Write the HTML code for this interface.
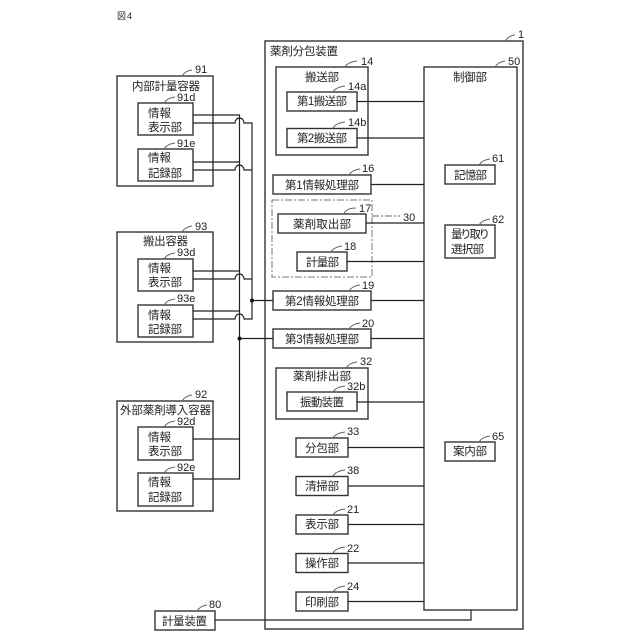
<!DOCTYPE html>
<html><head><meta charset="utf-8"><style>
html,body{margin:0;padding:0;background:#fff}
svg{display:block}
text{font-family:"Liberation Sans","Noto Sans CJK JP",sans-serif;font-size:11.5px;fill:#222}
.n{font-size:11px}
rect{fill:none;stroke:#333;stroke-width:1.4}
.l{fill:none;stroke:#222;stroke-width:1.2}
.c{fill:none;stroke:#666;stroke-width:1}
</style></head><body>
<svg width="640" height="640" viewBox="0 0 640 640" xmlns="http://www.w3.org/2000/svg">
<rect x="265" y="41" width="258" height="588"/>
<rect x="424" y="67" width="93" height="543"/>
<rect x="276" y="67" width="92" height="88"/>
<rect x="287" y="92" width="70" height="19"/>
<rect x="287" y="128.500" width="70" height="19"/>
<rect x="273" y="175" width="98" height="19"/>
<rect x="272" y="200" width="100" height="77" style="stroke:#777;stroke-width:1;stroke-dasharray:7 2 2 2"/>
<rect x="278" y="214" width="88" height="19"/>
<rect x="297" y="252" width="50" height="19"/>
<rect x="273" y="291" width="98" height="19"/>
<rect x="273" y="329" width="98" height="19"/>
<rect x="276" y="368" width="92" height="51"/>
<rect x="287" y="392" width="70" height="19"/>
<rect x="296" y="438" width="52" height="19"/>
<rect x="296" y="476.500" width="52" height="19"/>
<rect x="296" y="515" width="52" height="19"/>
<rect x="296" y="553.500" width="52" height="19"/>
<rect x="296" y="592" width="52" height="19"/>
<rect x="445" y="165" width="50" height="19"/>
<rect x="445" y="225" width="50" height="33"/>
<rect x="445" y="442" width="50" height="19"/>
<rect x="155" y="611" width="60" height="19"/>
<rect x="117" y="76" width="96" height="110"/>
<rect x="138" y="103" width="55" height="32"/>
<rect x="138" y="149" width="55" height="32"/>
<rect x="117" y="232" width="96" height="110"/>
<rect x="138" y="259" width="55" height="32"/>
<rect x="138" y="305" width="55" height="32"/>
<rect x="117" y="401" width="96" height="110"/>
<rect x="138" y="427" width="55" height="33"/>
<rect x="138" y="473" width="55" height="33"/>

<path class="l" d="M357 101.500H424M357 138H424M371 184.500H424M366 223H424M347 261.500H424M371 300.500H424M371 338.500H424M357 402H424M348 447.500H424M348 486H424M348 524.500H424M348 563H424M348 601.500H424"/>
<path class="l" d="M215 620H471V610"/>
<path class="c" d="M372 216H400" style="stroke-dasharray:7 2 2 2"/>
<path class="l" d="M193 115H239.500V479H193M193 162H239.500M193 271H239.500M193 311H239.500M193 439H239.500"/>
<path class="l" d="M193 123H235a4.500 5 0 0 1 9 0H252V319H244a4.500 5 0 0 0 -9 0H193"/>
<path class="l" d="M193 170H235a4.500 5 0 0 1 9 0H252M193 279H235a4.500 5 0 0 1 9 0H252"/>
<path class="l" d="M252 300.500H273M239.500 338.500H273"/>
<circle cx="252" cy="300.500" r="2" fill="#111"/>
<circle cx="239.500" cy="338.500" r="2" fill="#111"/>

<path class="c" d="M182 76q3-5 10-6M164 103q3-5 11-6M164 149q3-5 11-6M182 232q3-5 10-6M164 259q3-5 11-6M164 305q3-5 11-6M182 401q3-5 10-6M164 427q3-5 11-6M164 473q3-5 11-6M505 41q3-5 10-6M495 67q3-5 10-6M345 67q3-5 12-6M333 92q3-5 12-6M333 128q3-5 12-6M349 175q3-5 11-6M479 165q3-5 11-6M344 214q2-6 12-6M331 252q3-5 11-6M349 291q3-5 11-6M349 329q3-5 11-6M346 368q3-5 11-6M333 392q3-5 12-6M333 438q3-5 12-6M333 476q3-5 12-6M479 225q3-5 11-6M479 442q3-5 11-6M333 515q3-5 12-6M333 553q3-5 12-6M333 592q3-5 12-6M197 611q3-5 10-6"/>

<text x="117" y="19" style="font-size:9px" textLength="15">図4</text>
<text x="270" y="55" textLength="68">薬剤分包装置</text>
<text x="305" y="81" textLength="34">搬送部</text>
<text x="297" y="105" textLength="50">第1搬送部</text>
<text x="297" y="142" textLength="50">第2搬送部</text>
<text x="285" y="189" textLength="74">第1情報処理部</text>
<text x="293" y="228" textLength="58">薬剤取出部</text>
<text x="306" y="266" textLength="33">計量部</text>
<text x="285" y="305" textLength="74">第2情報処理部</text>
<text x="285" y="343" textLength="74">第3情報処理部</text>
<text x="293" y="380" textLength="58">薬剤排出部</text>
<text x="300" y="406" textLength="44">振動装置</text>
<text x="305" y="452" textLength="34">分包部</text>
<text x="305" y="490" textLength="34">清掃部</text>
<text x="305" y="528" textLength="34">表示部</text>
<text x="305" y="567" textLength="34">操作部</text>
<text x="305" y="606" textLength="34">印刷部</text>
<text x="453" y="81" textLength="34">制御部</text>
<text x="454" y="179" textLength="33">記憶部</text>
<text x="451" y="238" textLength="39">量り取り</text>
<text x="451" y="253" textLength="33">選択部</text>
<text x="453" y="455" textLength="34">案内部</text>
<text x="162" y="625" textLength="45">計量装置</text>
<text x="132" y="90" textLength="68">内部計量容器</text>
<text x="148" y="117" textLength="23">情報</text>
<text x="148" y="131" textLength="34">表示部</text>
<text x="148" y="161.500" textLength="23">情報</text>
<text x="148" y="177" textLength="34">記録部</text>
<text x="143" y="245" textLength="45">搬出容器</text>
<text x="148" y="272" textLength="23">情報</text>
<text x="148" y="286" textLength="34">表示部</text>
<text x="148" y="319" textLength="23">情報</text>
<text x="148" y="333" textLength="34">記録部</text>
<text x="120" y="414" textLength="91">外部薬剤導入容器</text>
<text x="148" y="441" textLength="23">情報</text>
<text x="148" y="455" textLength="34">表示部</text>
<text x="148" y="486" textLength="23">情報</text>
<text x="148" y="501" textLength="34">記録部</text>

<text class="n" x="195" y="73">91</text>
<text class="n" x="177" y="101">91d</text>
<text class="n" x="177" y="147">91e</text>
<text class="n" x="195" y="230">93</text>
<text class="n" x="177" y="256">93d</text>
<text class="n" x="177" y="302">93e</text>
<text class="n" x="195" y="398">92</text>
<text class="n" x="177" y="425">92d</text>
<text class="n" x="177" y="471">92e</text>
<text class="n" x="518" y="38">1</text>
<text class="n" x="508" y="65">50</text>
<text class="n" x="361" y="65">14</text>
<text class="n" x="348" y="90">14a</text>
<text class="n" x="348" y="126">14b</text>
<text class="n" x="362" y="172">16</text>
<text class="n" x="492" y="162">61</text>
<text class="n" x="359" y="212">17</text>
<text class="n" x="403" y="221">30</text>
<text class="n" x="492" y="223">62</text>
<text class="n" x="344" y="250">18</text>
<text class="n" x="362" y="289">19</text>
<text class="n" x="362" y="327">20</text>
<text class="n" x="360" y="365">32</text>
<text class="n" x="347" y="390">32b</text>
<text class="n" x="347" y="435">33</text>
<text class="n" x="347" y="474">38</text>
<text class="n" x="492" y="440">65</text>
<text class="n" x="347" y="513">21</text>
<text class="n" x="347" y="552">22</text>
<text class="n" x="347" y="590">24</text>
<text class="n" x="209" y="608">80</text>
</svg>
</body></html>
